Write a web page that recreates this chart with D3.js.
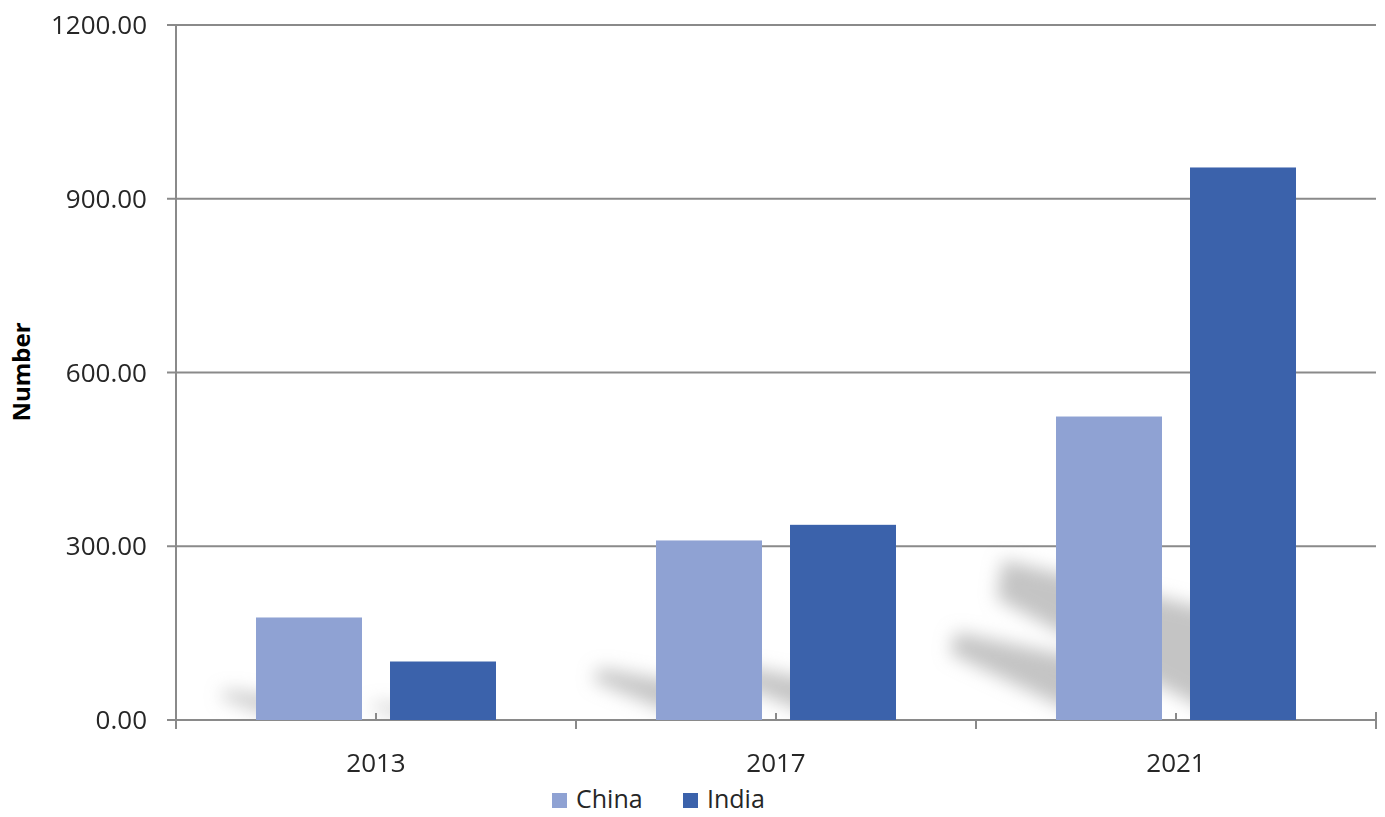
<!DOCTYPE html>
<html>
<head>
<meta charset="utf-8">
<script src="https://cdn.jsdelivr.net/npm/d3@7"></script>
<style>
  body { margin: 0; background: #fff; }
  svg { display: block; font-family: "Open Sans", "Noto Sans", sans-serif; }
</style>
</head>
<body>
<div id="chart"></div>
<script>
// chart data
const years = ['2013', '2017', '2021'];
const seriesNames = ['China', 'India'];
const chinaValues = [177, 310, 524];
const indiaValues = [101, 337, 954];
const yTicks = [0, 300, 600, 900, 1200];
const colors = ['#8FA2D3', '#3B62AB'];

const width = 1385, height = 817;
const margin = { top: 25, right: 9, bottom: 97, left: 176 };
const plotW = width - margin.left - margin.right;
const baseY = height - margin.bottom;

const svg = d3.select('#chart').append('svg')
    .attr('width', width)
    .attr('height', height);

const rows = years.map((yr, i) => ({
    year: yr,
    values: [chinaValues[i], indiaValues[i]]
}));

const x = d3.scaleBand()
    .domain(years)
    .range([margin.left, margin.left + plotW])
    .padding(0);

const xSub = d3.scaleBand()
    .domain(seriesNames)
    .range([-120, 120])
    .paddingInner(0.209)
    .paddingOuter(0);

const y = d3.scaleLinear()
    .domain([0, 1200])
    .range([baseY, margin.top]);

const axisColor = '#8a8a8a';

// blur filter for the floor shadows
const defs = svg.append('defs');
defs.append('filter')
    .attr('id', 'shadowBlur')
    .attr('x', '-50%').attr('y', '-50%')
    .attr('width', '200%').attr('height', '200%')
    .append('feGaussianBlur')
    .attr('stdDeviation', 9);

// gridlines
svg.append('g')
    .selectAll('line')
    .data(yTicks)
    .enter()
    .append('line')
    .attr('x1', margin.left - 9)
    .attr('x2', margin.left + plotW)
    .attr('y1', d => y(d))
    .attr('y2', d => y(d))
    .attr('stroke', axisColor)
    .attr('stroke-width', 2);

// shadows cast by bars (behind bars)
const bars = [];
rows.forEach(r => {
    r.values.forEach((v, j) => {
        bars.push({ year: r.year, series: seriesNames[j], value: v, j: j });
    });
});

defs.append('clipPath')
    .attr('id', 'plotClip')
    .append('rect')
    .attr('x', margin.left + 2)
    .attr('y', margin.top)
    .attr('width', plotW)
    .attr('height', baseY - margin.top - 1);

const shadowG = svg.append('g')
    .attr('clip-path', 'url(#plotClip)')
    .append('g')
    .attr('filter', 'url(#shadowBlur)');

bars.forEach(b => {
    const x0 = x(b.year) + x.bandwidth() / 2 + xSub(b.series);
    const w = xSub.bandwidth();
    const h = baseY - y(b.value);
    const tx = x0 - 0.35 * h;
    const ty = baseY - 0.26 * h;
    const pts = [
        [x0 + w * 0.4, baseY + 4],
        [x0 + w * 0.4, baseY - 0.19 * h],
        [tx + 6, ty - 0.03 * h],
        [tx, ty + 0.04 * h]
    ];
    shadowG.append('polygon')
        .attr('points', pts.map(p => p.join(',')).join(' '))
        .attr('fill', '#a4a4a4')
        .attr('opacity', 0.65);
});

// y axis line
svg.append('line')
    .attr('x1', margin.left).attr('x2', margin.left)
    .attr('y1', margin.top).attr('y2', baseY + 9)
    .attr('stroke', axisColor)
    .attr('stroke-width', 2);

// x axis ticks: boundaries below, centers small above
const bounds = years.map(d => x(d)).concat([margin.left + plotW]);
svg.append('g')
    .selectAll('line')
    .data(bounds)
    .enter()
    .append('line')
    .attr('x1', d => d).attr('x2', d => d)
    .attr('y1', (d, i) => i === bounds.length - 1 ? baseY - 8 : baseY)
    .attr('y2', baseY + 9)
    .attr('stroke', axisColor)
    .attr('stroke-width', 2);

svg.append('g')
    .selectAll('line')
    .data(years)
    .enter()
    .append('line')
    .attr('x1', d => x(d) + x.bandwidth() / 2)
    .attr('x2', d => x(d) + x.bandwidth() / 2)
    .attr('y1', baseY - 7)
    .attr('y2', baseY)
    .attr('stroke', axisColor)
    .attr('stroke-width', 2);

// bars
svg.append('g')
    .selectAll('rect')
    .data(bars)
    .enter()
    .append('rect')
    .attr('x', d => x(d.year) + x.bandwidth() / 2 + xSub(d.series))
    .attr('y', d => y(d.value))
    .attr('width', xSub.bandwidth())
    .attr('height', d => baseY - y(d.value))
    .attr('fill', d => colors[d.j]);

// y tick labels
svg.append('g')
    .selectAll('text')
    .data(yTicks)
    .enter()
    .append('text')
    .attr('x', margin.left - 29)
    .attr('y', d => y(d))
    .attr('dy', '0.35em')
    .attr('text-anchor', 'end')
    .style('font-size', '26px')
    .attr('fill', '#262626')
    .text(d => d3.format('.2f')(d));

// x tick labels
svg.append('g')
    .selectAll('text')
    .data(years)
    .enter()
    .append('text')
    .attr('x', d => x(d) + x.bandwidth() / 2)
    .attr('y', baseY + 52)
    .attr('text-anchor', 'middle')
    .style('font-size', '26px')
    .attr('fill', '#262626')
    .text(d => d);

// y axis title
svg.append('text')
    .attr('transform', 'translate(22,372) rotate(-90)')
    .attr('dy', '0.35em')
    .attr('text-anchor', 'middle')
    .style('font-size', '24px')
    .style('font-weight', 'bold')
    .attr('fill', '#000')
    .text('Number');

// legend
const legend = svg.append('g')
    .attr('transform', `translate(552, ${height - 9})`);
const legendX = [0, 131];
seriesNames.forEach((name, i) => {
    legend.append('rect')
        .attr('x', legendX[i])
        .attr('y', -15)
        .attr('width', 15)
        .attr('height', 15)
        .attr('fill', colors[i]);
    legend.append('text')
        .attr('x', legendX[i] + 24)
        .attr('y', 0)
        .style('font-size', '25px')
        .attr('fill', '#262626')
        .text(name);
});
</script>
</body>
</html>
